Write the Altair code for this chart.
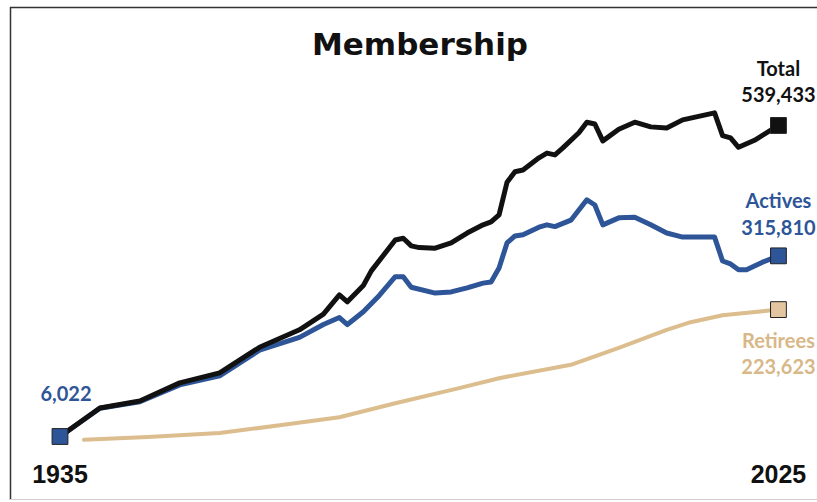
import altair as alt
import pandas as pd

# ---- data ----
total_years = [1935, 1940, 1945, 1950, 1955, 1960, 1965, 1968, 1970, 1971, 1973, 1974,
               1977, 1978, 1979, 1980, 1982, 1984, 1986, 1988, 1989, 1990, 1991, 1992,
               1993, 1995, 1996, 1997, 1998, 2000, 2001, 2002, 2003, 2005, 2007, 2009,
               2011, 2013, 2017, 2018, 2019, 2020, 2022, 2025]
total_values = [6022, 55000, 67000, 98000, 115000, 159000, 189000, 216000, 249000, 237000,
                265000, 290000, 343000, 346000, 333000, 330000, 329000, 338000, 355000,
                369000, 374000, 386000, 442000, 460000, 463000, 484000, 492000, 489000,
                501000, 527000, 545000, 542000, 513000, 533000, 545000, 537000, 535000,
                549000, 561000, 522000, 518000, 502000, 514000, 539433]

active_years = [1935, 1940, 1945, 1950, 1955, 1960, 1965, 1968, 1970, 1971, 1973, 1975,
                1977, 1978, 1979, 1982, 1984, 1986, 1988, 1989, 1990, 1991, 1992, 1993,
                1995, 1996, 1997, 1999, 2001, 2002, 2003, 2005, 2007, 2009, 2011, 2013,
                2017, 2018, 2019, 2020, 2021, 2023, 2025]
active_values = [6022, 54500, 65500, 94500, 110000, 154000, 176000, 198000, 210000, 198000,
                 220000, 248000, 280000, 280000, 262000, 252000, 254000, 261000, 269000,
                 271000, 295000, 338000, 350000, 352000, 365000, 369000, 366000, 377000,
                 412000, 403000, 369000, 381000, 382000, 369000, 355000, 348000, 348000,
                 307000, 302000, 292000, 292000, 305000, 315810]

retiree_years = [1938, 1946, 1955, 1963, 1970, 1977, 1985, 1990, 1999, 2005, 2011, 2014,
                 2018, 2023, 2025]
retiree_values = [500, 5000, 12000, 26000, 39000, 63000, 89000, 106000, 129000, 158000,
                  189000, 202000, 214000, 221000, 223623]

series_names = ["Total", "Actives", "Retirees"]
end_labels = ["539,433", "315,810", "223,623"]
start_label = "6,022"
axis_years = [1935, 2025]
title_text = "Membership"

BLACK = "#111111"
BLUE = "#2E5597"
TAN = "#DCBD8E"
TAN_TEXT = "#D8B888"
TAN_FILL = "#E3C6A0"

df = pd.concat([
    pd.DataFrame({"year": total_years, "value": total_values, "series": "Total"}),
    pd.DataFrame({"year": active_years, "value": active_values, "series": "Actives"}),
    pd.DataFrame({"year": retiree_years, "value": retiree_values, "series": "Retirees"}),
], ignore_index=True)

ends = pd.DataFrame({
    "year": [2025, 2025, 2025],
    "value": [total_values[-1], active_values[-1], retiree_values[-1]],
    "series": series_names,
    "label": end_labels,
})
start = pd.DataFrame({"year": [1935], "value": [active_values[0]], "label": [start_label]})
yrs = pd.DataFrame({"year": axis_years, "label": [str(y) for y in axis_years]})

W, H = 807, 493
xs = alt.Scale(domain=[1928.737, 2029.83], nice=False, zero=False)
ys = alt.Scale(domain=[-102900, 742595], nice=False, zero=False)
X = alt.X("year:Q", scale=xs, axis=None)
Y = alt.Y("value:Q", scale=ys, axis=None)

base = alt.Chart(df)

def line(name, color, width):
    return base.transform_filter(alt.datum.series == name).mark_line(
        color=color, strokeWidth=width, strokeJoin="round", strokeCap="round"
    ).encode(x=X, y=Y, order="year:Q")

ret_line = line("Retirees", TAN, 4)
act_line = line("Actives", BLUE, 5)
tot_line = line("Total", BLACK, 5)

sq_colors = alt.Scale(domain=series_names, range=[BLACK, BLUE, TAN_FILL])
end_sq = alt.Chart(ends).mark_square(size=250, stroke="#222222", strokeWidth=1, opacity=1).encode(
    x=X, y=Y, fill=alt.Fill("series:N", scale=sq_colors, legend=None)
)
start_sq = alt.Chart(start).mark_square(size=250, fill=BLUE, stroke="#222222", strokeWidth=1, opacity=1).encode(
    x=X, y=Y
)

lab_font = dict(font="Lato", fontSize=20, fontWeight="bold", align="center", baseline="alphabetic")

def end_text(name, color, dy_name, dy_val):
    d = ends[ends.series == name]
    c = alt.Chart(d)
    t1 = c.mark_text(color=color, dy=dy_name, **lab_font).encode(x=X, y=Y, text="series:N")
    t2 = c.mark_text(color=color, dy=dy_val, **lab_font).encode(x=X, y=Y, text="label:N")
    return t1 + t2

tot_txt = end_text("Total", BLACK, -49, -23)
act_txt = end_text("Actives", BLUE, -48, -21)
ret_txt = end_text("Retirees", TAN_TEXT, 38, 64)

start_txt = alt.Chart(start).mark_text(color=BLUE, dx=6, dy=-35, **lab_font).encode(
    x=X, y=Y, text="label:N"
)

year_txt = alt.Chart(yrs).mark_text(
    font="Liberation Sans", fontSize=25, fontWeight="bold", color="#111111",
    align="center", baseline="alphabetic"
).encode(x=X, y=alt.value(476), text="label:N")

title = alt.Chart(pd.DataFrame({"t": [title_text]})).mark_text(
    font="DejaVu Sans", fontSize=31, fontWeight="bold", color="#111111",
    align="center", baseline="alphabetic"
).encode(x=alt.value(410), y=alt.value(48), text="t:N")

frame_left = alt.Chart(pd.DataFrame({"a": [0]})).mark_rule(color="#333333", strokeWidth=1.5).encode(
    x=alt.value(0.5), y=alt.value(0), y2=alt.value(H)
)
frame_top = alt.Chart(pd.DataFrame({"a": [0]})).mark_rule(color="#333333", strokeWidth=1.5).encode(
    x=alt.value(0), x2=alt.value(W), y=alt.value(0.5)
)
frame_bottom = alt.Chart(pd.DataFrame({"a": [0]})).mark_rule(color="#D0D0D0", strokeWidth=1).encode(
    x=alt.value(0), x2=alt.value(W), y=alt.value(H - 0.5)
)

chart = alt.layer(
    frame_left, frame_top, frame_bottom, title,
    ret_line, act_line, tot_line,
    end_sq, start_sq,
    tot_txt, act_txt, ret_txt, start_txt, year_txt,
).properties(
    width=W, height=H,
    autosize=alt.AutoSizeParams(type="none"),
    padding={"left": 10, "top": 7, "right": 0, "bottom": 2},
    background="white",
).configure_view(stroke=None)

chart.save("out.html", embed_options={"renderer": "svg", "actions": False})
